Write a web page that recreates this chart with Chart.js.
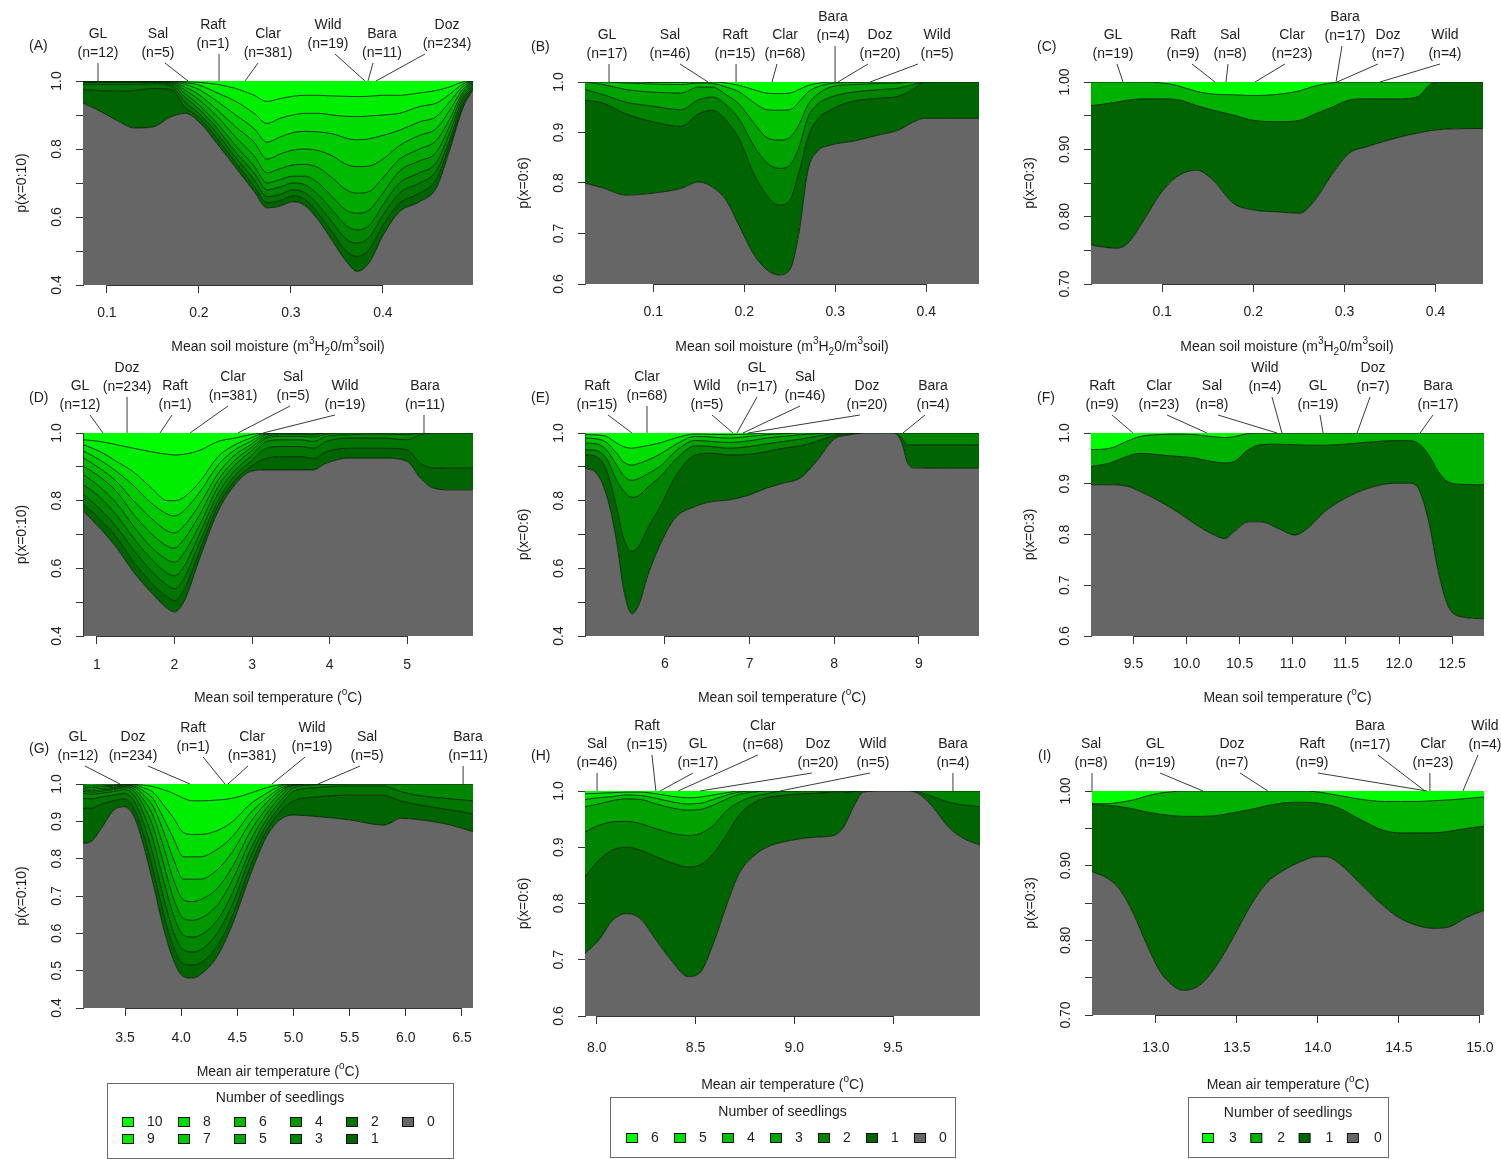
<!DOCTYPE html>
<html><head><meta charset="utf-8">
<script src="https://cdn.jsdelivr.net/npm/chart.js@4.4.1/dist/chart.umd.min.js"></script>
<style>
html,body{margin:0;padding:0;background:#fff;}
#wrap{position:relative;width:1501px;height:1159px;overflow:hidden;background:#fff;}
#wrap canvas{position:absolute;left:0;top:0;}
</style></head><body><div id="wrap"></div>
<script>
// ---------------- DATA ----------------
// Panel A: soil moisture, 0..10 seedlings (cumulative boundaries b0..b9)
const A_x  = [0.074,0.09,0.11,0.13,0.15,0.17,0.185,0.2,0.22,0.24,0.26,0.274,0.288,0.302,0.315,0.33,0.345,0.36,0.372,0.385,0.4,0.418,0.44,0.458,0.473,0.487,0.498];
const A_b0 = [.935,.915,.885,.862,.865,.895,.905,.88,.815,.745,.675,.627,.632,.645,.634,.59,.53,.47,.44,.465,.545,.615,.645,.685,.80,.92,.975];
const A_b1 = [.975,.972,.97,.972,.978,.975,.922,.893,.83,.76,.69,.642,.648,.662,.652,.61,.555,.50,.484,.505,.575,.64,.67,.71,.815,.93,.98];
const A_b2 = [.99,.99,.99,.99,.992,.985,.938,.905,.845,.775,.71,.66,.666,.68,.672,.635,.585,.535,.523,.54,.605,.67,.70,.735,.83,.94,.985];
const A_b3 = [.995,.995,.995,.995,.996,.99,.952,.918,.86,.79,.73,.68,.688,.70,.695,.665,.62,.575,.562,.575,.635,.70,.73,.76,.85,.95,.988];
const A_b4 = [.997,.997,.997,.997,.997,.994,.963,.93,.875,.81,.75,.70,.71,.72,.72,.70,.66,.62,.611,.62,.67,.735,.765,.79,.87,.96,.991];
const A_b5 = [.998,.998,.998,.998,.998,.996,.973,.945,.895,.835,.78,.73,.742,.753,.755,.745,.715,.68,.67,.675,.715,.77,.80,.825,.89,.968,.993];
const A_b6 = [.999,.999,.999,.999,.999,.998,.982,.96,.915,.865,.82,.77,.785,.797,.80,.795,.78,.755,.748,.75,.77,.81,.84,.86,.915,.976,.995];
const A_b7 = [1,1,1,1,1,.999,.99,.975,.94,.90,.86,.82,.835,.848,.852,.85,.845,.832,.827,.83,.84,.855,.88,.895,.94,.984,.997];
const A_b8 = [1,1,1,1,1,1,.995,.988,.965,.94,.905,.875,.89,.90,.905,.905,.90,.896,.895,.897,.90,.905,.925,.935,.962,.991,.998];
const A_b9 = [1,1,1,1,1,1,.998,.996,.99,.978,.958,.94,.948,.955,.958,.958,.956,.955,.954,.955,.958,.958,.965,.972,.983,.997,.999];

// Panel B: soil moisture, 0..6 seedlings
const B_x  = [0.025,0.045,0.07,0.1,0.13,0.15,0.165,0.18,0.195,0.21,0.225,0.238,0.25,0.26,0.27,0.28,0.295,0.32,0.35,0.37,0.385,0.398,0.42,0.458];
const B_b0 = [.80,.79,.776,.78,.789,.802,.792,.766,.713,.66,.628,.618,.628,.70,.825,.862,.875,.883,.896,.905,.92,.928,.928,.928];
const B_b1 = [.964,.958,.937,.921,.912,.937,.944,.924,.885,.82,.775,.756,.765,.82,.89,.925,.945,.962,.968,.972,.985,1,1,1];
const B_b2 = [.985,.975,.96,.952,.945,.965,.97,.955,.925,.875,.84,.829,.835,.87,.93,.955,.97,.98,.985,.988,.995,1,1,1];
const B_b3 = [1,.995,.985,.98,.978,.99,.99,.975,.955,.92,.89,.885,.89,.915,.955,.975,.99,.995,.997,.998,1,1,1,1];
const B_b4 = [1,1,.998,.996,.995,.998,.997,.99,.98,.96,.945,.944,.945,.96,.98,.99,.997,.999,1,1,1,1,1,1];
const B_b5 = [1,1,1,.999,.999,1,1,.998,.993,.985,.978,.977,.978,.985,.993,.997,1,1,1,1,1,1,1,1];

// Panel C: soil moisture, 0..3 seedlings
const C_x  = [0.022,0.035,0.05,0.062,0.08,0.098,0.116,0.138,0.156,0.178,0.2,0.229,0.251,0.265,0.287,0.305,0.325,0.36,0.38,0.396,0.41,0.452];
const C_b0 = [.758,.755,.753,.76,.795,.834,.859,.869,.854,.82,.81,.807,.805,.82,.864,.894,.904,.918,.924,.928,.93,.931];
const C_b1 = [.965,.967,.97,.973,.975,.975,.974,.965,.958,.951,.943,.941,.943,.951,.963,.973,.975,.975,.978,.998,1,1];
const C_b2 = [1,1,1,1,1,.999,.995,.986,.982,.981,.98,.982,.987,.993,.999,1,1,1,1,1,1,1];

// Panel D: soil temperature, 0..10 seedlings
const D_x  = [0.83,1.04,1.26,1.47,1.69,1.91,2.0,2.12,2.34,2.56,2.78,2.98,3.19,3.41,3.62,3.79,3.96,4.26,4.69,5.0,5.17,5.34,5.56,5.85];
const D_b0 = [.768,.718,.659,.59,.531,.481,.471,.501,.639,.768,.847,.886,.891,.891,.891,.891,.911,.926,.926,.916,.867,.837,.832,.832];
const D_b1 = [.788,.745,.69,.62,.56,.515,.505,.535,.66,.785,.86,.90,.925,.93,.93,.925,.945,.955,.955,.95,.91,.897,.896,.896];
const D_b2 = [.817,.775,.72,.655,.595,.55,.54,.57,.685,.80,.875,.915,.955,.96,.96,.955,.975,.985,.985,.98,.995,1,1,1];
const D_b3 = [.847,.81,.755,.69,.63,.585,.578,.605,.71,.82,.89,.93,.975,.98,.98,.975,.99,.995,.997,.995,1,1,1,1];
const D_b4 = [.877,.84,.79,.725,.665,.625,.618,.645,.735,.84,.905,.945,.985,.99,.99,.988,.997,1,1,1,1,1,1,1];
const D_b5 = [.901,.87,.825,.76,.705,.665,.66,.685,.765,.86,.92,.955,.99,.995,.995,.994,1,1,1,1,1,1,1,1];
const D_b6 = [.926,.895,.855,.80,.75,.71,.705,.725,.795,.88,.935,.965,.995,.998,.998,.997,1,1,1,1,1,1,1,1];
const D_b7 = [.946,.92,.885,.845,.795,.76,.755,.77,.83,.905,.95,.975,.998,1,1,1,1,1,1,1,1,1,1,1];
const D_b8 = [.965,.945,.915,.885,.84,.80,.80,.81,.86,.93,.965,.985,1,1,1,1,1,1,1,1,1,1,1,1];
const D_b9 = [.98,.975,.965,.955,.945,.937,.935,.937,.95,.975,.985,.995,1,1,1,1,1,1,1,1,1,1,1,1];

// Panel E: soil temperature, 0..6 seedlings
const E_x  = [5.06,5.19,5.31,5.43,5.51,5.61,5.69,5.80,5.96,6.12,6.36,6.55,6.75,7.0,7.2,7.4,7.6,7.79,7.99,8.19,8.4,8.7,8.8,8.86,8.93,9.3,9.71];
const E_b0 = [.896,.881,.817,.679,.541,.466,.491,.58,.679,.748,.783,.797,.802,.817,.837,.852,.867,.916,.98,.995,1,1,.97,.915,.897,.896,.896];
const E_b1 = [.936,.93,.89,.78,.69,.65,.665,.72,.79,.87,.935,.94,.935,.937,.945,.955,.962,.975,.992,.998,1,1,.985,.965,.965,.965,.965];
const E_b2 = [.951,.948,.925,.86,.83,.81,.815,.84,.875,.92,.962,.96,.955,.96,.968,.975,.982,.99,.998,1,1,1,1,1,1,1,1];
const E_b3 = [.97,.968,.95,.905,.875,.86,.865,.88,.905,.945,.978,.975,.972,.977,.985,.99,.995,.998,1,1,1,1,1,1,1,1,1];
const E_b4 = [.985,.983,.972,.94,.915,.905,.91,.92,.94,.965,.99,.988,.985,.99,.995,.998,1,1,1,1,1,1,1,1,1,1,1];
const E_b5 = [.995,.994,.99,.97,.96,.955,.958,.963,.972,.985,.997,.996,.995,.997,1,1,1,1,1,1,1,1,1,1,1,1,1];

// Panel F: soil temperature, 0..3 seedlings
const F_x  = [9.10,9.28,9.44,9.56,9.75,9.91,10.07,10.23,10.36,10.45,10.58,10.7,10.86,11.02,11.14,11.3,11.49,11.71,11.96,12.09,12.18,12.28,12.37,12.46,12.58,12.80];
const F_b0 = [.898,.898,.895,.885,.865,.845,.822,.802,.792,.806,.825,.825,.812,.799,.812,.845,.871,.891,.901,.901,.891,.825,.727,.66,.638,.634];
const F_b1 = [.934,.941,.954,.96,.957,.954,.951,.944,.941,.944,.967,.977,.978,.977,.976,.976,.978,.982,.985,.985,.98,.957,.924,.904,.899,.898];
const F_b2 = [.967,.97,.984,.993,.997,.998,.997,.993,.991,.993,.999,1,1,1,1,1,1,1,1,1,1,1,1,1,1,1];

// Panel G: air temperature, 0..10 seedlings
const G_x  = [3.126,3.2,3.28,3.4,3.49,3.58,3.66,3.75,3.84,3.93,4.02,4.1,4.17,4.32,4.46,4.61,4.76,4.88,5.0,5.2,5.5,5.8,5.86,5.95,6.1,6.4,6.6];
const G_b0 = [.841,.846,.877,.93,.939,.913,.841,.734,.618,.529,.484,.48,.489,.538,.627,.752,.859,.904,.917,.913,.904,.89,.895,.908,.905,.89,.872];
const G_b1 = [.935,.935,.945,.955,.96,.935,.87,.77,.655,.565,.518,.515,.52,.565,.65,.775,.875,.925,.955,.965,.97,.97,.965,.955,.945,.93,.92];
const G_b2 = [.962,.96,.965,.97,.975,.955,.90,.81,.70,.605,.555,.55,.555,.60,.68,.80,.89,.94,.98,.99,.995,.995,.99,.98,.97,.96,.955];
const G_b3 = [.975,.973,.975,.98,.985,.97,.925,.85,.745,.65,.595,.59,.595,.635,.71,.82,.905,.953,.99,.998,1,1,1,1,1,1,1];
const G_b4 = [.98,.978,.98,.985,.99,.98,.945,.885,.79,.695,.64,.635,.64,.675,.745,.845,.92,.965,.995,1,1,1,1,1,1,1,1];
const G_b5 = [.984,.982,.984,.988,.993,.987,.96,.915,.835,.745,.69,.685,.69,.72,.78,.87,.935,.975,.997,1,1,1,1,1,1,1,1];
const G_b6 = [.988,.986,.988,.991,.995,.992,.972,.94,.875,.80,.745,.745,.745,.77,.82,.895,.95,.982,.998,1,1,1,1,1,1,1,1];
const G_b7 = [.992,.99,.992,.994,.997,.995,.982,.96,.91,.855,.805,.805,.805,.825,.86,.92,.962,.988,.999,1,1,1,1,1,1,1,1];
const G_b8 = [.995,.994,.995,.996,.998,.998,.99,.978,.945,.91,.87,.865,.865,.875,.90,.945,.975,.994,1,1,1,1,1,1,1,1,1];
const G_b9 = [.998,.997,.998,.998,.999,.999,.997,.993,.985,.975,.962,.955,.955,.957,.962,.975,.99,.998,1,1,1,1,1,1,1,1,1];

// Panel H: air temperature, 0..6 seedlings
const H_x  = [7.94,8.01,8.08,8.15,8.22,8.3,8.39,8.46,8.52,8.59,8.66,8.72,8.79,8.86,8.94,9.03,9.11,9.2,9.25,9.3,9.35,9.45,9.58,9.63,9.7,9.78,9.86,9.94];
const H_b0 = [.711,.735,.77,.782,.773,.735,.693,.67,.676,.729,.80,.853,.883,.90,.909,.915,.918,.921,.936,.972,.998,1,1,.995,.972,.936,.915,.904];
const H_b1 = [.847,.877,.895,.90,.895,.883,.871,.865,.868,.889,.924,.957,.978,.988,.992,.995,.996,.998,.998,.999,1,1,1,.998,.99,.98,.975,.972];
const H_b2 = [.927,.939,.945,.946,.942,.933,.924,.921,.924,.939,.966,.98,.99,.995,1,1,1,1,1,1,1,1,1,1,1,1,1,1];
const H_b3 = [.972,.977,.983,.986,.985,.977,.969,.966,.967,.975,.986,.994,.998,1,1,1,1,1,1,1,1,1,1,1,1,1,1,1];
const H_b4 = [.985,.988,.99,.993,.992,.987,.98,.977,.978,.985,.993,.998,1,1,1,1,1,1,1,1,1,1,1,1,1,1,1,1];
const H_b5 = [.995,.996,.997,.998,.998,.995,.99,.988,.989,.993,.997,1,1,1,1,1,1,1,1,1,1,1,1,1,1,1,1,1];

// Panel I: air temperature, 0..3 seedlings
const I_x  = [12.605,12.7,12.78,12.86,12.94,13.02,13.1,13.17,13.27,13.37,13.48,13.58,13.68,13.79,13.89,13.99,14.05,14.13,14.26,14.41,14.51,14.61,14.71,14.81,14.92,15.025];
const I_b0 = [.892,.883,.867,.836,.796,.76,.74,.733,.74,.765,.805,.845,.876,.894,.905,.912,.912,.903,.876,.845,.829,.82,.816,.818,.831,.84];
const I_b1 = [.982,.981,.979,.976,.972,.969,.967,.966,.966,.967,.971,.975,.98,.984,.985,.984,.982,.977,.962,.947,.944,.944,.944,.946,.95,.953];
const I_b2 = [.983,.983,.985,.988,.993,.997,.999,1,1,1,1,1,1,1,1,.999,.997,.994,.989,.986,.986,.986,.987,.988,.99,.992];

// Tick values and labels
const X_moist_ticks = [0.1,0.2,0.3,0.4];            const X_moist_labels = ['0.1','0.2','0.3','0.4'];
const X_D_ticks = [1,2,3,4,5];                       const X_D_labels = ['1','2','3','4','5'];
const X_E_ticks = [6,7,8,9];                         const X_E_labels = ['6','7','8','9'];
const X_F_ticks = [9.5,10,10.5,11,11.5,12,12.5];     const X_F_labels = ['9.5','10.0','10.5','11.0','11.5','12.0','12.5'];
const X_G_ticks = [3.5,4,4.5,5,5.5,6,6.5];           const X_G_labels = ['3.5','4.0','4.5','5.0','5.5','6.0','6.5'];
const X_H_ticks = [8,8.5,9,9.5];                     const X_H_labels = ['8.0','8.5','9.0','9.5'];
const X_I_ticks = [13,13.5,14,14.5,15];              const X_I_labels = ['13.0','13.5','14.0','14.5','15.0'];
const Y_04_ticks = [0.4,0.5,0.6,0.7,0.8,0.9,1.0];    const Y_04_labels = ['0.4','','0.6','','0.8','','1.0'];
const Y_04all_labels = ['0.4','0.5','0.6','0.7','0.8','0.9','1.0'];
const Y_06_ticks = [0.6,0.7,0.8,0.9,1.0];            const Y_06_labels = ['0.6','0.7','0.8','0.9','1.0'];
const Y_07_ticks = [0.70,0.75,0.80,0.85,0.90,0.95,1.00]; const Y_07_labels = ['0.70','','0.80','','0.90','','1.00'];

// Site annotations (name, sample size, label x, leader start x, leader end x, label row)
const A_siteNames = ['GL','Sal','Raft','Clar','Wild','Bara','Doz'];
const A_siteN = [12,5,1,381,19,11,234];
const A_siteTextX = [0.0903,0.1555,0.2153,0.2751,0.3404,0.399,0.4697];
const A_siteLineX = [0.0903,0.1631,0.2219,0.2643,0.348,0.3893,0.4458];
const A_siteAtX = [0.0903,0.1882,0.2219,0.2501,0.3806,0.3838,0.3926];
const A_siteRow = [0,0,1,0,1,0,1];

const B_siteNames = ['GL','Sal','Raft','Clar','Bara','Doz','Wild'];
const B_siteN = [17,46,15,68,4,20,5];
const B_siteTextX = [0.0492,0.1184,0.1899,0.2448,0.2976,0.3492,0.4119];
const B_siteLineX = [0.0514,0.1294,0.191,0.236,0.2998,0.336,0.391];
const B_siteAtX = [0.0514,0.1602,0.191,0.2305,0.2998,0.303,0.3382];
const B_siteRow = [0,0,0,0,2,0,0];

const C_siteNames = ['GL','Raft','Sal','Clar','Bara','Doz','Wild'];
const C_siteN = [19,9,8,23,17,7,4];
const C_siteTextX = [0.0461,0.1229,0.1745,0.2425,0.3006,0.3478,0.4103];
const C_siteLineX = [0.0505,0.1328,0.1723,0.2348,0.2973,0.3368,0.4048];
const C_siteAtX = [0.0571,0.158,0.1701,0.2019,0.2908,0.2919,0.339];
const C_siteRow = [0,0,0,0,2,0,0];

const D_siteNames = ['GL','Doz','Raft','Clar','Sal','Wild','Bara'];
const D_siteN = [12,234,1,381,5,19,11];
const D_siteTextX = [0.781,1.388,2.007,2.755,3.529,4.199,5.231];
const D_siteLineX = [0.91,1.388,1.968,2.69,3.49,4.07,5.218];
const D_siteAtX = [1.078,1.388,1.813,2.20,2.819,3.142,5.218];
const D_siteRow = [0,2,0,1,1,0,0];

const E_siteNames = ['Raft','Clar','Wild','GL','Sal','Doz','Bara'];
const E_siteN = [15,68,5,17,46,20,4];
const E_siteTextX = [5.198,5.788,6.497,7.088,7.655,8.387,9.167];
const E_siteLineX = [5.328,5.788,6.556,7.088,7.596,8.304,9.072];
const E_siteAtX = [5.611,5.788,6.804,6.851,6.922,6.981,8.812];
const E_siteRow = [0,1,0,2,1,0,0];

const F_siteNames = ['Raft','Clar','Sal','Wild','GL','Doz','Bara'];
const F_siteN = [9,23,8,4,19,7,17];
const F_siteTextX = [9.204,9.74,10.239,10.738,11.237,11.755,12.367];
const F_siteLineX = [9.298,9.816,10.296,10.804,11.256,11.727,12.32];
const F_siteAtX = [9.495,10.192,10.851,10.898,11.285,11.605,12.198];
const F_siteRow = [0,0,0,2,0,2,0];

const G_siteNames = ['GL','Doz','Raft','Clar','Wild','Sal','Bara'];
const G_siteN = [12,234,1,381,19,5,11];
const G_siteTextX = [3.081,3.571,4.106,4.631,5.165,5.655,6.554];
const G_siteLineX = [3.144,3.705,4.195,4.595,5.103,5.593,6.51];
const G_siteAtX = [3.455,4.079,4.39,4.417,4.809,5.219,6.51];
const G_siteRow = [0,0,1,0,1,0,0];

const H_siteNames = ['Sal','Raft','GL','Clar','Doz','Wild','Bara'];
const H_siteN = [46,15,17,68,20,5,4];
const H_siteTextX = [8.001,8.254,8.512,8.841,9.12,9.398,9.803];
const H_siteLineX = [8.001,8.279,8.487,8.816,9.089,9.383,9.803];
const H_siteAtX = [8.001,8.299,8.32,8.411,8.522,8.927,9.803];
const H_siteRow = [0,2,0,2,0,0,0];

const I_siteNames = ['Sal','GL','Doz','Raft','Bara','Clar','Wild'];
const I_siteN = [8,19,7,9,17,23,4];
const I_siteTextX = [12.599,12.994,13.469,13.963,14.321,14.71,15.031];
const I_siteLineX = [12.605,13.025,13.519,14.0,14.37,14.691,14.988];
const I_siteAtX = [12.605,13.29,13.691,14.673,14.661,14.691,14.895];
const I_siteRow = [0,0,0,0,2,0,2];

// ---------------- STYLE / LAYOUT ----------------
const FONT = "'Liberation Sans', Arial, Helvetica, sans-serif";
const TXT = '#1e1e1e';
const EDGE = 'rgba(0,28,0,0.85)';
const AXIS = '#333333';
Chart.defaults.font.family = FONT;

const T_MOIST = [['Mean soil moisture (m',0],['3',1],['H',0],['2',-1],['0/m',0],['3',1],['soil)',0]];
const T_SOIL  = [['Mean soil temperature (',0],['o',1],['C)',0]];
const T_AIR   = [['Mean air temperature (',0],['o',1],['C)',0]];

function sites(p){ return {names:p[0], n:p[1], tx:p[2], sx:p[3], ax:p[4], row:p[5]}; }

const PANELS = [
 {id:'A', rect:[83,81,473,285], xr:[0.074,0.498], yr:[0.4,1], x:A_x, bounds:[A_b0,A_b1,A_b2,A_b3,A_b4,A_b5,A_b6,A_b7,A_b8,A_b9],
  xt:X_moist_ticks, xl:X_moist_labels, yt:Y_04_ticks, yl:Y_04_labels, ytitle:'p(x=0:10)', xtitle:T_MOIST, tickDy:28, titleDy:62,
  s:sites([A_siteNames,A_siteN,A_siteTextX,A_siteLineX,A_siteAtX,A_siteRow])},
 {id:'B', rect:[585,82,979,284], xr:[0.025,0.458], yr:[0.6,1], x:B_x, bounds:[B_b0,B_b1,B_b2,B_b3,B_b4,B_b5],
  xt:X_moist_ticks, xl:X_moist_labels, yt:Y_06_ticks, yl:Y_06_labels, ytitle:'p(x=0:6)', xtitle:T_MOIST, tickDy:28, titleDy:63,
  s:sites([B_siteNames,B_siteN,B_siteTextX,B_siteLineX,B_siteAtX,B_siteRow])},
 {id:'C', rect:[1091,82,1483,284], xr:[0.022,0.452], yr:[0.7,1], x:C_x, bounds:[C_b0,C_b1,C_b2],
  xt:X_moist_ticks, xl:X_moist_labels, yt:Y_07_ticks, yl:Y_07_labels, ytitle:'p(x=0:3)', xtitle:T_MOIST, tickDy:28, titleDy:63,
  s:sites([C_siteNames,C_siteN,C_siteTextX,C_siteLineX,C_siteAtX,C_siteRow])},
 {id:'D', rect:[83,433,473,636], xr:[0.82,5.85], yr:[0.4,1], x:D_x, bounds:[D_b0,D_b1,D_b2,D_b3,D_b4,D_b5,D_b6,D_b7,D_b8,D_b9],
  xt:X_D_ticks, xl:X_D_labels, yt:Y_04_ticks, yl:Y_04_labels, ytitle:'p(x=0:10)', xtitle:T_SOIL, tickDy:29, titleDy:62,
  s:sites([D_siteNames,D_siteN,D_siteTextX,D_siteLineX,D_siteAtX,D_siteRow])},
 {id:'E', rect:[585,433,979,636], xr:[5.056,9.71], yr:[0.4,1], x:E_x, bounds:[E_b0,E_b1,E_b2,E_b3,E_b4,E_b5],
  xt:X_E_ticks, xl:X_E_labels, yt:Y_04_ticks, yl:Y_04_labels, ytitle:'p(x=0:6)', xtitle:T_SOIL, tickDy:28, titleDy:62,
  s:sites([E_siteNames,E_siteN,E_siteTextX,E_siteLineX,E_siteAtX,E_siteRow])},
 {id:'F', rect:[1091,433,1484,636], xr:[9.10,12.80], yr:[0.6,1], x:F_x, bounds:[F_b0,F_b1,F_b2],
  xt:X_F_ticks, xl:X_F_labels, yt:Y_06_ticks, yl:Y_06_labels, ytitle:'p(x=0:3)', xtitle:T_SOIL, tickDy:28, titleDy:62,
  s:sites([F_siteNames,F_siteN,F_siteTextX,F_siteLineX,F_siteAtX,F_siteRow])},
 {id:'G', rect:[83,784,473,1008], xr:[3.126,6.598], yr:[0.4,1], x:G_x, bounds:[G_b0,G_b1,G_b2,G_b3,G_b4,G_b5,G_b6,G_b7,G_b8,G_b9],
  xt:X_G_ticks, xl:X_G_labels, yt:Y_04_ticks, yl:Y_04all_labels, ytitle:'p(x=0:10)', xtitle:T_AIR, tickDy:30, titleDy:64,
  s:sites([G_siteNames,G_siteN,G_siteTextX,G_siteLineX,G_siteAtX,G_siteRow]),
  legend:{box:[107,1083,346,75], titleY:1098, x0:128, dx:56, y0:1122, dy:17, rows:2, off:19}},
 {id:'H', rect:[585,791,980,1016], xr:[7.94,9.94], yr:[0.6,1], x:H_x, bounds:[H_b0,H_b1,H_b2,H_b3,H_b4,H_b5],
  xt:X_H_ticks, xl:X_H_labels, yt:Y_06_ticks, yl:Y_06_labels, ytitle:'p(x=0:6)', xtitle:T_AIR, tickDy:32, titleDy:69,
  s:sites([H_siteNames,H_siteN,H_siteTextX,H_siteLineX,H_siteAtX,H_siteRow]),
  legend:{box:[610,1097,345,60], titleY:1112, x0:632, dx:48, y0:1138, dy:0, rows:1, off:19}},
 {id:'I', rect:[1092,791,1484,1015], xr:[12.605,15.025], yr:[0.7,1], x:I_x, bounds:[I_b0,I_b1,I_b2],
  xt:X_I_ticks, xl:X_I_labels, yt:Y_07_ticks, yl:Y_07_labels, ytitle:'p(x=0:3)', xtitle:T_AIR, tickDy:33, titleDy:70,
  s:sites([I_siteNames,I_siteN,I_siteTextX,I_siteLineX,I_siteAtX,I_siteRow]),
  legend:{box:[1188,1097,200,60], titleY:1113, x0:1208, dx:48.3, y0:1138, dy:0, rows:1, off:21}}
];

function levelColors(n){
  const c = ['#666666'];
  for (let k = 1; k <= n; k++){ const g = Math.round(100 + 155*(k-1)/(n-1)); c.push('rgb(0,'+g+',0)'); }
  return c;
}

function drawRich(ctx, segs, cx, cy){
  const big = '14px ' + FONT, small = '10px ' + FONT;
  let w = 0;
  segs.forEach(([t,m]) => { ctx.font = m ? small : big; w += ctx.measureText(t).width; });
  let xx = cx - w/2;
  ctx.textAlign = 'left'; ctx.textBaseline = 'middle';
  segs.forEach(([t,m]) => {
    ctx.font = m ? small : big;
    ctx.fillText(t, xx, cy + (m === 1 ? -6 : (m === -1 ? 5 : 0)));
    xx += ctx.measureText(t).width;
  });
}

const W = 1501, H = 1159;
const wrap = document.getElementById('wrap');

PANELS.forEach(p => {
  const cv = document.createElement('canvas');
  cv.width = W; cv.height = H;
  wrap.appendChild(cv);
  const N = p.bounds.length;
  const cols = levelColors(N);
  const datasets = [];
  p.bounds.forEach((b, k) => {
    datasets.push({
      label: String(k),
      data: p.x.map((xv, i) => ({x: xv, y: b[i]})),
      fill: k === 0 ? 'start' : '-1',
      backgroundColor: cols[k],
      borderColor: EDGE, borderWidth: 1,
      pointRadius: 0, cubicInterpolationMode: 'monotone'
    });
  });
  datasets.push({
    label: String(N),
    data: p.x.map((xv, i) => ({x: xv, y: p.bounds[N-1][i]})),
    fill: 'end', backgroundColor: cols[N],
    borderColor: 'rgba(0,0,0,0)', borderWidth: 0,
    pointRadius: 0, cubicInterpolationMode: 'monotone'
  });

  const [L, T, R, B] = p.rect;
  const zeroFit = (isX) => (s) => {
    if (isX) s.height = 0; else s.width = 0;
    s.paddingLeft = 0; s.paddingRight = 0; s.paddingTop = 0; s.paddingBottom = 0;
  };

  const annot = {
    id: 'annot' + p.id,
    afterDraw(chart){
      const ctx = chart.ctx, ca = chart.chartArea, xs = chart.scales.x, ys = chart.scales.y;
      ctx.save();
      // x axis line (between first and last tick, as in R)
      ctx.strokeStyle = AXIS; ctx.lineWidth = 1;
      ctx.beginPath();
      ctx.moveTo(xs.getPixelForValue(p.xt[0]), Math.round(ca.bottom) + 0.5);
      ctx.lineTo(xs.getPixelForValue(p.xt[p.xt.length-1]), Math.round(ca.bottom) + 0.5);
      ctx.stroke();
      ctx.fillStyle = TXT; ctx.font = '14px ' + FONT;
      ctx.textAlign = 'center'; ctx.textBaseline = 'middle';
      // x tick labels
      xs.ticks.forEach((t, i) => {
        ctx.fillText(p.xl[i], xs.getPixelForValue(t.value), ca.bottom + p.tickDy);
      });
      // y tick labels (parallel to axis)
      ys.ticks.forEach((t, i) => {
        const lab = p.yl[i]; if (!lab) return;
        ctx.save(); ctx.translate(ca.left - 26, ys.getPixelForValue(t.value)); ctx.rotate(-Math.PI/2);
        ctx.fillText(lab, 0, 0); ctx.restore();
      });
      // y title
      ctx.save(); ctx.translate(ca.left - 61, (ca.top + ca.bottom)/2); ctx.rotate(-Math.PI/2);
      ctx.fillText(p.ytitle, 0, 0); ctx.restore();
      // x title
      drawRich(ctx, p.xtitle, (ca.left + ca.right)/2, ca.bottom + p.titleDy);
      // panel letter
      ctx.font = '14px ' + FONT; ctx.textAlign = 'left'; ctx.textBaseline = 'middle';
      ctx.fillText('(' + p.id + ')', ca.left - 54, ca.top - 35);
      // site labels with leader lines
      ctx.textAlign = 'center';
      ctx.strokeStyle = '#3a3a3a'; ctx.lineWidth = 1;
      p.s.names.forEach((nm, i) => {
        const r = p.s.row[i];
        const lx = xs.getPixelForValue(p.s.tx[i]);
        ctx.fillText(nm, lx, ca.top - 47 - 9*r);
        ctx.fillText('(n=' + p.s.n[i] + ')', lx, ca.top - 28 - 9*r);
        ctx.beginPath();
        ctx.moveTo(xs.getPixelForValue(p.s.sx[i]), ca.top - 18 - 9*r);
        ctx.lineTo(xs.getPixelForValue(p.s.ax[i]), ca.top);
        ctx.stroke();
      });
      // legend
      if (p.legend){
        const lg = p.legend;
        ctx.strokeStyle = '#6a6a6a'; ctx.lineWidth = 1;
        ctx.strokeRect(lg.box[0] + 0.5, lg.box[1] + 0.5, lg.box[2], lg.box[3]);
        ctx.fillStyle = TXT; ctx.textAlign = 'center';
        ctx.fillText('Number of seedlings', lg.box[0] + lg.box[2]/2, lg.titleY);
        const items = chart.data.datasets.slice().reverse();
        items.forEach((d, i) => {
          const col = Math.floor(i / lg.rows), row = i % lg.rows;
          const cx = lg.x0 + col*lg.dx, cy = lg.y0 + row*lg.dy;
          ctx.fillStyle = d.backgroundColor;
          ctx.fillRect(cx - 5.5, cy - 4.5, 11, 9);
          ctx.strokeStyle = '#111'; ctx.strokeRect(cx - 5.5, cy - 4.5, 11, 9);
          ctx.fillStyle = TXT; ctx.textAlign = 'left';
          ctx.fillText(d.label, cx + lg.off, cy);
        });
      }
      ctx.restore();
    }
  };

  new Chart(cv, {
    type: 'line',
    data: { datasets },
    options: {
      responsive: false, animation: false, events: [], devicePixelRatio: 1,
      layout: { padding: { left: L, top: T, right: W - R, bottom: H - B }, autoPadding: false },
      plugins: { legend: { display: false }, tooltip: { enabled: false }, title: { display: false } },
      scales: {
        x: {
          type: 'linear', position: 'bottom', min: p.xr[0], max: p.xr[1], bounds: 'data',
          afterBuildTicks: (s) => { s.ticks = p.xt.map(v => ({ value: v })); },
          afterFit: zeroFit(true),
          grid: { display: true, drawOnChartArea: false, drawTicks: true, tickLength: 8, color: AXIS, lineWidth: 1 },
          border: { display: false },
          ticks: { display: false, autoSkip: false }
        },
        y: {
          type: 'linear', position: 'left', min: p.yr[0], max: p.yr[1], bounds: 'data',
          afterBuildTicks: (s) => { s.ticks = p.yt.map(v => ({ value: v })); },
          afterFit: zeroFit(false),
          grid: { display: true, drawOnChartArea: false, drawTicks: true, tickLength: 7, color: AXIS, lineWidth: 1 },
          border: { display: true, color: AXIS, width: 1 },
          ticks: { display: false, autoSkip: false }
        }
      }
    },
    plugins: [annot]
  });
});
</script></body></html>
